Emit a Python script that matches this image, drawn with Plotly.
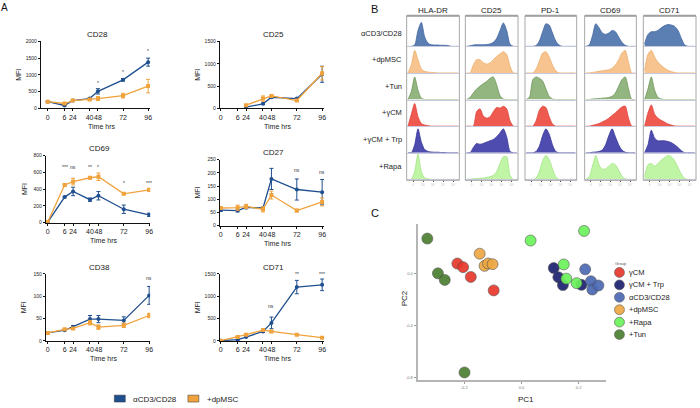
import plotly.graph_objects as go

W, H = 700, 408
FONT = "Liberation Sans, Arial, sans-serif"

# ---------------- panel A data ----------------
time_pos = [0, 16, 24, 40, 48, 72, 96]
time_labels = ["0", "6", "24", "40", "48", "72", "96"]

markers_a = ["CD28", "CD25", "CD69", "CD27", "CD38", "CD71"]
ymax_a = [2000, 1500, 800, 250, 150, 1500]
ystep_a = [500, 500, 200, 50, 50, 500]

cd3_mean = [
    [200, 88, 235, 294, 510, 853, 1382],
    [None, None, 30, 103, 250, 220, 765],
    [8, 306, 373, 275, 322, 161, 94],
    [59, 57, 69, 67, 177, 137, 127],
    [18, 24, 32, 49, 49, 46, 102],
    [7, 29, 88, 213, 404, 1206, 1257],
]
cd3_err = [
    [15, 10, 20, 15, 80, 40, 120],
    [None, None, 10, 15, 20, 15, 180],
    [5, 10, 50, 20, 50, 50, 20],
    [5, 5, 5, 5, 40, 40, 48],
    [1, 1, 2, 8, 8, 8, 20],
    [5, 10, 10, 20, 130, 150, 130],
]
msc_mean = [
    [200, 147, 235, 265, 294, 382, 667],
    [None, None, 73, 220, 280, 176, 787],
    [8, 451, 490, 537, 549, 345, 392],
    [67, 68, 73, 62, 116, 57, 90],
    [18, 26, 28, 41, 31, 35, 57],
    [7, 88, 140, 243, 213, 140, 74],
]
msc_err = [
    [15, 10, 20, 20, 60, 70, 200],
    [None, None, 10, 60, 20, 15, 150],
    [5, 10, 40, 15, 45, 10, 20],
    [5, 10, 8, 10, 15, 5, 15],
    [1, 2, 2, 5, 5, 5, 5],
    [5, 10, 15, 15, 20, 10, 10],
]
# (time, height, label) per panel
sig_marks = [
    [(48, 755, "*"), (72, 1100, "*"), (96, 1710, "*")],
    [],
    [(16, 667, "***"), (24, 667, "ns"), (40, 667, "**"), (48, 667, "*"), (72, 478, "*"), (96, 478, "***")],
    [(72, 212, "ns"), (96, 202, "ns")],
    [(96, 140, "ns")],
    [(48, 779, "ns"), (72, 1500, "**"), (96, 1500, "***")],
]

# ---------------- panel B data (relative density, 16 bins per histogram) ----------------
hist_markers = ["HLA-DR", "CD25", "PD-1", "CD69", "CD71"]
hist_groups = ["αCD3/CD28", "+dpMSC", "+Tun", "+γCM", "+γCM + Trp", "+Rapa"]

hist_acd3 = [
    [0, 0, 0.05, 0.6, 0.9, 0.35, 0.12, 0.06, 0.05, 0.05, 0.04, 0.04, 0.03, 0, 0, 0],
    [0, 0.02, 0.05, 0.06, 0.06, 0.06, 0.07, 0.09, 0.15, 0.3, 0.6, 0.88, 0.6, 0.08, 0, 0],
    [0, 0, 0, 0.03, 0.2, 0.55, 0.85, 0.8, 0.5, 0.2, 0.05, 0, 0, 0, 0, 0],
    [0, 0.05, 0.4, 0.85, 0.7, 0.5, 0.45, 0.5, 0.6, 0.55, 0.35, 0.15, 0.04, 0, 0, 0],
    [0.1, 0.45, 0.55, 0.55, 0.6, 0.7, 0.78, 0.82, 0.8, 0.75, 0.6, 0.3, 0.05, 0, 0, 0],
]
hist_dpmsc = [
    [0, 0.3, 0.85, 0.5, 0.15, 0.06, 0.03, 0.02, 0.01, 0, 0, 0, 0, 0, 0, 0],
    [0, 0, 0.3, 0.5, 0.5, 0.38, 0.33, 0.38, 0.5, 0.62, 0.72, 0.8, 0.7, 0.25, 0, 0],
    [0, 0, 0, 0.15, 0.45, 0.75, 0.8, 0.6, 0.3, 0.08, 0, 0, 0, 0, 0, 0],
    [0, 0, 0.02, 0.04, 0.06, 0.08, 0.1, 0.12, 0.18, 0.3, 0.5, 0.75, 0.85, 0.4, 0, 0],
    [0.1, 0.7, 0.85, 0.6, 0.4, 0.28, 0.18, 0.1, 0.05, 0.02, 0, 0, 0, 0, 0, 0],
]
hist_tun = [
    [0, 0.3, 0.85, 0.35, 0.05, 0, 0, 0, 0, 0, 0, 0, 0, 0, 0, 0],
    [0, 0.08, 0.25, 0.4, 0.5, 0.6, 0.68, 0.8, 0.85, 0.55, 0.15, 0.02, 0, 0, 0, 0],
    [0, 0.1, 0.75, 0.85, 0.8, 0.7, 0.4, 0.12, 0.02, 0, 0, 0, 0, 0, 0, 0],
    [0, 0, 0.02, 0.03, 0.04, 0.05, 0.06, 0.08, 0.12, 0.25, 0.5, 0.75, 0.85, 0.4, 0, 0],
    [0, 0.4, 0.85, 0.35, 0.08, 0.02, 0, 0, 0, 0, 0, 0, 0, 0, 0, 0],
]
hist_ycm = [
    [0, 0.45, 0.85, 0.35, 0.1, 0.04, 0.02, 0, 0, 0, 0, 0, 0, 0, 0, 0],
    [0, 0, 0, 0.55, 0.65, 0.38, 0.3, 0.35, 0.55, 0.7, 0.68, 0.75, 0.65, 0.2, 0, 0],
    [0, 0, 0, 0.2, 0.6, 0.75, 0.7, 0.35, 0.08, 0, 0, 0, 0, 0, 0, 0],
    [0, 0, 0.03, 0.06, 0.1, 0.16, 0.22, 0.3, 0.4, 0.5, 0.62, 0.72, 0.75, 0.3, 0, 0],
    [0, 0.5, 0.8, 0.45, 0.3, 0.22, 0.15, 0.08, 0.04, 0.01, 0, 0, 0, 0, 0, 0],
]
hist_ycm_trp = [
    [0, 0, 0.3, 0.9, 0.4, 0.12, 0.05, 0.03, 0.02, 0.02, 0.01, 0.01, 0, 0, 0, 0],
    [0, 0, 0.2, 0.35, 0.32, 0.35, 0.4, 0.45, 0.5, 0.6, 0.75, 0.9, 0.6, 0.05, 0, 0],
    [0, 0, 0, 0.05, 0.25, 0.65, 0.9, 0.7, 0.3, 0.05, 0, 0, 0, 0, 0, 0],
    [0, 0, 0.02, 0.03, 0.05, 0.1, 0.3, 0.65, 0.9, 0.6, 0.3, 0.1, 0.02, 0, 0, 0],
    [0, 0.3, 0.85, 0.55, 0.45, 0.45, 0.45, 0.42, 0.38, 0.3, 0.2, 0.08, 0, 0, 0, 0],
]
hist_rapa = [
    [0, 0, 0.3, 0.95, 0.3, 0.05, 0.02, 0, 0, 0, 0, 0, 0, 0, 0, 0],
    [0, 0.01, 0.02, 0.03, 0.04, 0.05, 0.07, 0.1, 0.15, 0.3, 0.6, 0.85, 0.85, 0.15, 0, 0],
    [0, 0, 0, 0.05, 0.3, 0.7, 0.9, 0.75, 0.4, 0.1, 0, 0, 0, 0, 0, 0],
    [0, 0.1, 0.5, 0.9, 0.55, 0.38, 0.4, 0.5, 0.6, 0.55, 0.35, 0.12, 0.02, 0, 0, 0],
    [0.1, 0.55, 0.6, 0.5, 0.6, 0.72, 0.82, 0.9, 0.85, 0.7, 0.45, 0.2, 0.03, 0, 0, 0],
]
hist_rows = [hist_acd3, hist_dpmsc, hist_tun, hist_ycm, hist_ycm_trp, hist_rapa]

# ---------------- panel C data ----------------
pca_groups = ["γCM", "γCM + Trp", "αCD3/CD28", "+dpMSC", "+Rapa", "+Tun"]
pc1_ycm = [-0.224, -0.204, -0.177, -0.097]
pc2_ycm = [0.081, 0.053, -0.023, -0.127]
pc1_ycm_trp = [0.113, 0.129, 0.145, 0.210]
pc2_ycm_trp = [0.046, -0.025, -0.086, -0.084]
pc1_acd3 = [0.223, 0.243, 0.248, 0.269]
pc2_acd3 = [0.036, -0.056, -0.120, -0.089]
pc1_dpmsc = [-0.146, -0.129, -0.117, -0.101]
pc2_dpmsc = [0.157, 0.063, 0.081, 0.076]
pc1_rapa = [0.032, 0.219, 0.148, 0.157, 0.193]
pc2_rapa = [0.259, 0.333, 0.074, -0.036, -0.071]
pc1_tun = [-0.329, -0.292, -0.268, -0.199]
pc2_tun = [0.274, 0.005, -0.046, -0.762]


def fx(px):
    return px / W


def fy(py):
    return 1 - py / H


fig = go.Figure()
annotations = []
shapes = []
layout = {}


def note(text, x, y, size, color="#222", xanchor="center", angle=0, **kw):
    annotations.append(dict(text=text, x=fx(x), y=fy(y), xref="paper", yref="paper",
                            showarrow=False, xanchor=xanchor, yanchor="middle",
                            textangle=angle, font=dict(size=size, color=color, family=FONT), **kw))


# ---------------- panel A ----------------
BLUE, ORANGE = "#1f4f8f", "#f0a23c"
# plot boxes in px: x0, x1, y_top, y_bottom, time-0 px, time-96 px
a_boxes = [
    (40, 150, 39, 107, 47, 148),
    (220, 325, 39, 107, 221, 323),
    (45, 150, 155, 223, 47, 149),
    (220, 325, 159, 226, 221, 323),
    (45, 150, 275, 343, 47, 149),
    (220, 325, 275, 343, 221, 323),
]
for i, name in enumerate(markers_a):
    n = i + 1
    x0, x1, yt, yb, z, e = a_boxes[i]
    s = (e - z) / 96
    xr = [(x0 - z) / s, (x1 - z) / s]
    sx = "" if n == 1 else str(n)
    layout["xaxis" + sx] = dict(domain=[fx(x0), fx(x1)], anchor="y" + sx, range=xr,
                                tickvals=time_pos, ticktext=time_labels, tickangle=0,
                                showline=True, linecolor="#111", linewidth=1, ticks="outside",
                                ticklen=2, tickcolor="#111",
                                tickfont=dict(size=7, family=FONT, color="#222"),
                                showgrid=False, zeroline=False, fixedrange=True)
    layout["yaxis" + sx] = dict(domain=[fy(yb), fy(yt)], anchor="x" + sx, range=[0, ymax_a[i]],
                                tickvals=list(range(0, ymax_a[i] + 1, ystep_a[i])),
                                showline=True, linecolor="#111", linewidth=1, ticks="outside",
                                ticklen=2, tickcolor="#111",
                                tickfont=dict(size=5, family=FONT, color="#222"),
                                showgrid=False, zeroline=False)
    for mean, err, col, sym in [(cd3_mean[i], cd3_err[i], BLUE, "circle"),
                                (msc_mean[i], msc_err[i], ORANGE, "square")]:
        fig.add_trace(go.Scatter(
            x=time_pos, y=mean, mode="lines+markers", xaxis="x" + sx, yaxis="y" + sx,
            line=dict(color=col, width=1.3), marker=dict(symbol=sym, size=4, color=col),
            error_y=dict(type="data", array=err, color=col, thickness=1, width=2),
            showlegend=False, connectgaps=False))
    for t, h, lab in sig_marks[i]:
        annotations.append(dict(text=lab, x=t, y=h, xref="x" + sx, yref="y" + sx,
                                showarrow=False, font=dict(size=5, family=FONT, color="#333")))
    cx = (x0 + x1) / 2 + 2
    note(name, cx, yt - 7, 8)
    note("Time hrs", cx + 4, yb + 18, 7)
    note("MFI", x0 - 22, (yt + yb) / 2, 7, angle=-90)

# legend of panel A
leg_a = [("αCD3/CD28", BLUE, 114), ("+dpMSC", ORANGE, 188)]
for lab, col, lx in leg_a:
    shapes.append(dict(type="rect", xref="paper", yref="paper", x0=fx(lx), x1=fx(lx + 11),
                       y0=fy(405), y1=fy(398), fillcolor=col, line=dict(color="#333", width=0.5)))
    note(lab, lx + 17, 402, 8, xanchor="left")

note("A", 4, 5, 10, color="#111")

# ---------------- panel B ----------------
FILL = ["#5b7fb3", "#f7c48f", "#93b57f", "#ee5a50", "#4e4cae", "#c0f5a5"]
EDGE = ["#3f65a0", "#eeae6c", "#6e965a", "#e0443a", "#3a3899", "#a2e585"]
col_px = [(408, 461), (467, 520), (527, 579), (587, 639), (646, 699)]
row_top, row_h = 17, 27
bins = list(range(16))
for r, row in enumerate(hist_rows):
    yt = row_top + r * row_h
    yb = yt + row_h
    for c, vals in enumerate(row):
        n = 7 + r * 5 + c
        sx = str(n)
        last = r == len(hist_rows) - 1
        layout["xaxis" + sx] = dict(domain=[fx(col_px[c][0]), fx(col_px[c][1])], anchor="y" + sx,
                                    range=[-0.4, 15.4], showgrid=False, zeroline=False,
                                    showline=True, linecolor="#c9c9de", linewidth=1,
                                    showticklabels=last, ticks="outside" if last else "",
                                    tickvals=[1.5, 4.5, 7.5, 10.5, 13.5], ticklen=2,
                                    tickcolor="#555", tickangle=0,
                                    ticktext=["0", "10³", "10⁴", "10⁵", "10⁶"],
                                    tickfont=dict(size=3, color="#bbb", family=FONT))
        layout["yaxis" + sx] = dict(domain=[fy(yb), fy(yt)], anchor="x" + sx, range=[0, 1],
                                    visible=False)
        fig.add_trace(go.Scatter(x=bins, y=vals, mode="lines", xaxis="x" + sx, yaxis="y" + sx,
                                 line=dict(color=EDGE[r], width=0.8, shape="spline", smoothing=0.7),
                                 fill="tozeroy", fillcolor=FILL[r], showlegend=False))
    note(hist_groups[r], 405, (yt + yb) / 2, 7.5, xanchor="right")
for c, (a, b) in enumerate(col_px):
    shapes.append(dict(type="rect", xref="paper", yref="paper", x0=fx(a), x1=fx(b),
                       y0=fy(180), y1=fy(13), line=dict(color="#a8a8a8", width=1)))
    shapes.append(dict(type="line", xref="paper", yref="paper", x0=fx(a), x1=fx(b),
                       y0=fy(13), y1=fy(13), line=dict(color="#a0a0a0", width=2)))
    note(hist_markers[c], (a + b) / 2, 8, 8)
note("B", 376, 6, 11, color="#111")

# ---------------- panel C ----------------
PCA_COL = ["#e8372c", "#1c2170", "#4b69b3", "#eda843", "#6cf25c", "#4b7f31"]
pca_x = [pc1_ycm, pc1_ycm_trp, pc1_acd3, pc1_dpmsc, pc1_rapa, pc1_tun]
pca_y = [pc2_ycm, pc2_ycm_trp, pc2_acd3, pc2_dpmsc, pc2_rapa, pc2_tun]
layout["xaxis37"] = dict(domain=[fx(419), fx(608)], anchor="y37", range=[-0.363, 0.294],
                         tickvals=[-0.2, 0, 0.2], ticktext=["-0.2", "0.0", "0.2"],
                         showline=True, linecolor="#b5b5b5", linewidth=2, ticks="outside",
                         ticklen=2, tickcolor="#999", showgrid=False, zeroline=False,
                         tickfont=dict(size=4, color="#777", family=FONT))
layout["yaxis37"] = dict(domain=[fy(383), fy(224)], anchor="x37", range=[-0.823, 0.389],
                         tickvals=[0, -0.4, -0.8], ticktext=["0.0", "-0.4", "-0.8"],
                         showline=True, linecolor="#b5b5b5", linewidth=2, ticks="outside",
                         ticklen=2, tickcolor="#999", showgrid=False, zeroline=False,
                         tickfont=dict(size=4, color="#777", family=FONT))
for g, name in enumerate(pca_groups):
    fig.add_trace(go.Scatter(x=pca_x[g], y=pca_y[g], mode="markers", xaxis="x37", yaxis="y37",
                             marker=dict(size=11, color=PCA_COL[g], opacity=0.92,
                                         line=dict(color="#4a4a4a", width=0.6)),
                             name=name, showlegend=False))
note("PC1", 528, 402, 8)
note("PC2", 406, 300, 8, angle=-90)
note("C", 376, 213, 11, color="#111")
note("Group", 616, 264, 4, color="#555", xanchor="left")
for g, name in enumerate(pca_groups):
    cy = 273.5 + g * 12.6
    shapes.append(dict(type="circle", xref="paper", yref="paper", x0=fx(617), x1=fx(627),
                       y0=fy(cy + 5), y1=fy(cy - 5), fillcolor=PCA_COL[g], opacity=0.92,
                       line=dict(color="#4a4a4a", width=0.6)))
    note(name, 630, cy, 7.5, xanchor="left")

fig.update_layout(width=W, height=H, margin=dict(l=0, r=0, t=0, b=0),
                  paper_bgcolor="white", plot_bgcolor="white",
                  font=dict(family=FONT), annotations=annotations, shapes=shapes, **layout)
# the page body has a default 8px margin; drop it so the figure fills the window
fig.write_html("out.html", config={"displayModeBar": False},
               post_script="document.body.style.margin='0';")
